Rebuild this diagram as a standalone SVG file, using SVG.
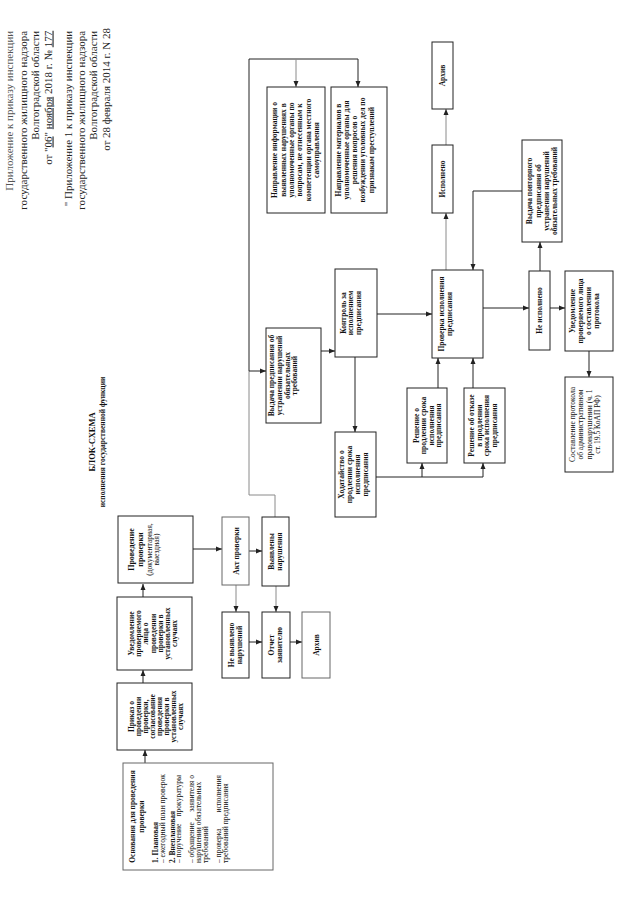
<svg xmlns="http://www.w3.org/2000/svg" width="640" height="905" viewBox="0 0 640 905">
<defs>
<style>
.b{fill:#fff;stroke:#222;stroke-width:1}
.t{font-family:"Liberation Serif","Times New Roman",serif;font-size:7.5px;font-weight:bold;fill:#111;text-anchor:middle}
.n{font-weight:normal}
.s{text-anchor:start}
.e{text-anchor:end}
.h{font-family:"Liberation Serif","Times New Roman",serif;font-size:11px;fill:#222;text-anchor:end}
.c{fill:none;stroke:#222;stroke-width:1}
.g{stroke:#8a8a8a}
</style>
<marker id="a" viewBox="0 0 6 6" refX="6" refY="3" markerWidth="6" markerHeight="6" markerUnits="userSpaceOnUse" orient="auto"><path d="M0,0.5 L6,3 L0,5.5 z" fill="#222"/></marker>
</defs>
<rect width="640" height="905" fill="#fff"/>

<g id="header">
<text class="h" transform="translate(0,28) rotate(-90)">
<tspan x="0" y="13" fill="#555">Приложение к приказу инспекции</tspan>
<tspan x="0" y="26.5">государственного жилищного надзора</tspan>
<tspan x="0" y="38.5">Волгоградской области</tspan>
<tspan x="0" y="51.5">от "<tspan text-decoration="underline">06</tspan>" <tspan text-decoration="underline">ноября</tspan> 2018 г. № <tspan text-decoration="underline">177</tspan></tspan>
<tspan x="0" y="71.5">" Приложение 1 к приказу инспекции</tspan>
<tspan x="0" y="85">государственного жилищного надзора</tspan>
<tspan x="0" y="97">Волгоградской области</tspan>
<tspan x="0" y="110">от 28 февраля 2014 г. N 28</tspan>
</text>
</g>

<g id="title">
<text class="t" style="font-size:8.5px" transform="translate(0,442) rotate(-90)"><tspan x="0" y="95">БЛОК-СХЕМА</tspan><tspan x="0" y="105" style="font-size:7.5px">исполнения государственной функции</tspan></text>
</g>

<g id="connectors">
<line class="c" x1="145" y1="763" x2="145" y2="750" marker-end="url(#a)"/>
<line class="c" x1="143" y1="683" x2="143" y2="670" marker-end="url(#a)"/>
<line class="c" x1="143" y1="597" x2="143" y2="584" marker-end="url(#a)"/>
<line class="c" x1="193" y1="549" x2="222" y2="549" marker-end="url(#a)"/>
<line class="c" x1="249" y1="551" x2="262" y2="551" marker-end="url(#a)"/>
<line class="c g" x1="236" y1="585" x2="236" y2="612" marker-end="url(#a)"/>
<line class="c g" x1="276" y1="586" x2="276" y2="612" marker-end="url(#a)"/>
<line class="c" x1="249" y1="642" x2="262" y2="642" marker-end="url(#a)"/>
<line class="c" x1="290" y1="642" x2="302" y2="642" marker-end="url(#a)"/>
<polyline class="c g" points="275,517 275,495 249,495 249,371"/>
<polyline class="c" points="249,371 249,59 358,59 358,87" marker-end="url(#a)"/>
<line class="c g" x1="296" y1="59" x2="296" y2="87" marker-end="url(#a)"/>
<line class="c" x1="249" y1="371" x2="266" y2="371" marker-end="url(#a)"/>
<line class="c" x1="321" y1="351" x2="335" y2="351" marker-end="url(#a)"/>
<line class="c" x1="355" y1="357" x2="355" y2="432" marker-end="url(#a)"/>
<line class="c" x1="377" y1="314" x2="432" y2="314" marker-end="url(#a)"/>
<polyline class="c" points="376,477 483,477 483,463" marker-end="url(#a)"/>
<line class="c" x1="422" y1="477" x2="422" y2="463" marker-end="url(#a)"/>
<line class="c" x1="438" y1="388" x2="438" y2="358" marker-end="url(#a)"/>
<line class="c" x1="473" y1="388" x2="473" y2="358" marker-end="url(#a)"/>
<line class="c g" x1="446" y1="270" x2="446" y2="213" marker-end="url(#a)"/>
<line class="c g" x1="446" y1="145" x2="446" y2="109" marker-end="url(#a)"/>
<line class="c" x1="483" y1="308" x2="529" y2="308" marker-end="url(#a)"/>
<line class="c" x1="540" y1="271" x2="540" y2="242" marker-end="url(#a)"/>
<polyline class="c" points="522,191 473,191 473,270" marker-end="url(#a)"/>
<line class="c" x1="550" y1="308" x2="565" y2="308" marker-end="url(#a)"/>
<line class="c" x1="589" y1="351" x2="589" y2="377" marker-end="url(#a)"/>
</g>

<g id="osnovaniya">
<rect class="b" x="123" y="763" width="150" height="107" style="stroke:#666"/>
<text class="t" transform="translate(0,816.5) rotate(-90)"><tspan x="0" y="134.5">Основания для проведения</tspan><tspan x="0" y="144">проверки</tspan></text>
<text class="t s" transform="translate(0,863) rotate(-90)"><tspan x="0" y="157.5">1. Плановая</tspan><tspan class="n" x="0" y="164.5">– ежегодный план проверок</tspan><tspan x="0" y="174.5">2. Внеплановая</tspan><tspan class="n" x="0" y="181">– поручение</tspan><tspan class="n" x="0" y="194.3">– обращение</tspan><tspan class="n" x="0" y="200.8">нарушении обязательных</tspan><tspan class="n" x="0" y="207.5">требований</tspan><tspan class="n" x="0" y="220.8">– проверка</tspan><tspan class="n" x="0" y="227.5">требований предписания</tspan></text>
<text class="t e n" transform="translate(0,775) rotate(-90)"><tspan x="0" y="181">прокуратуры</tspan><tspan x="0" y="194.3">заявителя о</tspan><tspan x="0" y="220.8">исполнения</tspan></text>
</g>

<g id="prikaz">
<rect class="b" x="117" y="683" width="75" height="67"/>
<text class="t" transform="translate(0,716.5) rotate(-90)"><tspan x="0" y="134">Приказ о</tspan><tspan x="0" y="141">проведении</tspan><tspan x="0" y="148.1">проверки,</tspan><tspan x="0" y="155.2">согласование</tspan><tspan x="0" y="162.2">проведения</tspan><tspan x="0" y="169.3">проверки в</tspan><tspan x="0" y="176.3">установленных</tspan><tspan x="0" y="183.4">случаях</tspan></text>
</g>

<g id="uvedomlenie1">
<rect class="b" x="117" y="597" width="75" height="73"/>
<text class="t" transform="translate(0,633.5) rotate(-90)"><tspan x="0" y="134">Уведомление</tspan><tspan x="0" y="141.2">проверяемого</tspan><tspan x="0" y="148.4">лица о</tspan><tspan x="0" y="155.6">проведении</tspan><tspan x="0" y="162.8">проверки в</tspan><tspan x="0" y="170">установленных</tspan><tspan x="0" y="177.2">случаях</tspan></text>
</g>

<g id="provedenie">
<rect class="b" x="118" y="516" width="75" height="67"/>
<text class="t" transform="translate(0,549.5) rotate(-90)"><tspan x="0" y="134" style="font-size:8px">Проведение</tspan><tspan x="0" y="143" style="font-size:8px">проверки</tspan><tspan class="n" x="0" y="151.5">(документарная,</tspan><tspan class="n" x="0" y="158.5">выездная)</tspan></text>
</g>

<g id="akt">
<rect class="b" x="222" y="517" width="27" height="68" style="stroke:#666"/>
<text class="t" transform="translate(0,551) rotate(-90)"><tspan x="0" y="238.5">Акт проверки</tspan></text>
</g>

<g id="vyyavleny">
<rect class="b" x="262" y="517" width="27" height="69"/>
<text class="t" transform="translate(0,551.5) rotate(-90)"><tspan x="0" y="273.5">Выявлены</tspan><tspan x="0" y="281.5">нарушения</tspan></text>
</g>

<g id="ne-vyyavleno">
<rect class="b" x="222" y="612" width="27" height="66"/>
<text class="t" transform="translate(0,645) rotate(-90)"><tspan x="0" y="233.5">Не выявлено</tspan><tspan x="0" y="241.5">нарушений</tspan></text>
</g>

<g id="otchet">
<rect class="b" x="262" y="612" width="28" height="66"/>
<text class="t" transform="translate(0,645) rotate(-90)"><tspan x="0" y="273.5">Отчет</tspan><tspan x="0" y="281.5">заявителю</tspan></text>
</g>

<g id="arhiv1">
<rect class="b" x="302" y="612" width="28" height="66" style="stroke:#666"/>
<text class="t" transform="translate(0,645) rotate(-90)"><tspan x="0" y="318.5">Архив</tspan></text>
</g>

<g id="vydacha">
<rect class="b" x="266" y="328" width="55" height="95"/>
<text class="t" transform="translate(0,375.5) rotate(-90)"><tspan x="0" y="274">Выдача предписания об</tspan><tspan x="0" y="281.6">устранении нарушений</tspan><tspan x="0" y="289.6">обязательных</tspan><tspan x="0" y="297.3">требований</tspan></text>
</g>

<g id="napr-info">
<rect class="b" x="267" y="87" width="58" height="126"/>
<text class="t" transform="translate(0,150) rotate(-90)"><tspan x="0" y="277.3">Направление информации о</tspan><tspan x="0" y="285.6">выявленных нарушениях в</tspan><tspan x="0" y="294">уполномоченные органы по</tspan><tspan x="0" y="302.3">вопросам, не отнесенным к</tspan><tspan x="0" y="310.6">компетенции органа местного</tspan><tspan x="0" y="319">самоуправления</tspan></text>
</g>

<g id="napr-mat">
<rect class="b" x="331" y="87" width="56" height="126"/>
<text class="t" transform="translate(0,150) rotate(-90)"><tspan x="0" y="340.6">Направление материалов в</tspan><tspan x="0" y="349">уполномоченные органы для</tspan><tspan x="0" y="357.3">решения вопросов о</tspan><tspan x="0" y="365.3">возбуждении уголовных дел по</tspan><tspan x="0" y="374">признакам преступлений</tspan></text>
</g>

<g id="kontrol">
<rect class="b" x="335" y="269" width="42" height="88"/>
<text class="t" transform="translate(0,313) rotate(-90)"><tspan x="0" y="345.5">Контроль за</tspan><tspan x="0" y="353.3">исполнением</tspan><tspan x="0" y="361">предписания</tspan></text>
</g>

<g id="hodataystvo">
<rect class="b" x="335" y="432" width="41" height="85"/>
<text class="t" transform="translate(0,474.5) rotate(-90)"><tspan x="0" y="344.3">Ходатайство о</tspan><tspan x="0" y="352.3">продлении срока</tspan><tspan x="0" y="360.3">исполнения</tspan><tspan x="0" y="368.3">предписания</tspan></text>
</g>

<g id="reshenie-prodl">
<rect class="b" x="407" y="388" width="40" height="75"/>
<text class="t" transform="translate(0,425.5) rotate(-90)"><tspan x="0" y="418.8">Решение о</tspan><tspan x="0" y="426.3">продлении срока</tspan><tspan x="0" y="433.8">исполнения</tspan><tspan x="0" y="441.3">предписания</tspan></text>
</g>

<g id="reshenie-otkaz">
<rect class="b" x="464" y="388" width="41" height="75"/>
<text class="t" transform="translate(0,425.5) rotate(-90)"><tspan x="0" y="474.3">Решение об отказе</tspan><tspan x="0" y="481.8">в продлении</tspan><tspan x="0" y="489.3">срока исполнения</tspan><tspan x="0" y="496.8">предписания</tspan></text>
</g>

<g id="proverka">
<rect class="b" x="432" y="270" width="51" height="88"/>
<text class="t" transform="translate(0,314) rotate(-90)"><tspan x="0" y="444.3">Проверка исполнения</tspan><tspan x="0" y="451.6">предписания</tspan></text>
</g>

<g id="ispolneno">
<rect class="b" x="432" y="145" width="21" height="68"/>
<text class="t" transform="translate(0,179) rotate(-90)"><tspan x="0" y="445">Исполнено</tspan></text>
</g>

<g id="arhiv2">
<rect class="b" x="432" y="42" width="21" height="67"/>
<text class="t" transform="translate(0,75.5) rotate(-90)"><tspan x="0" y="445">Архив</tspan></text>
</g>

<g id="vydacha-povt">
<rect class="b" x="522" y="140" width="40" height="102"/>
<text class="t" transform="translate(0,191) rotate(-90)"><tspan x="0" y="532.3">Выдача повторного</tspan><tspan x="0" y="540.5">предписания об</tspan><tspan x="0" y="548.8">устранении нарушений</tspan><tspan x="0" y="557">обязательных требований</tspan></text>
</g>

<g id="ne-ispolneno">
<rect class="b" x="529" y="271" width="21" height="79"/>
<text class="t" transform="translate(0,310.5) rotate(-90)"><tspan x="0" y="542">Не исполнено</tspan></text>
</g>

<g id="uvedomlenie2">
<rect class="b" x="565" y="271" width="48" height="80"/>
<text class="t" transform="translate(0,311) rotate(-90)"><tspan x="0" y="575.3">Уведомление</tspan><tspan x="0" y="583.3">проверяемого лица</tspan><tspan x="0" y="591.3">о составлении</tspan><tspan x="0" y="599.3">протокола</tspan></text>
</g>

<g id="sostavlenie">
<rect class="b" x="565" y="377" width="48" height="95"/>
<text class="t n" transform="translate(0,424.5) rotate(-90)"><tspan x="0" y="575">Составление протокола</tspan><tspan x="0" y="583.3">об административном</tspan><tspan x="0" y="591.6">правонарушении (ч. 1</tspan><tspan x="0" y="600">ст. 19.5 КоАП РФ)</tspan></text>
</g>
</svg>
